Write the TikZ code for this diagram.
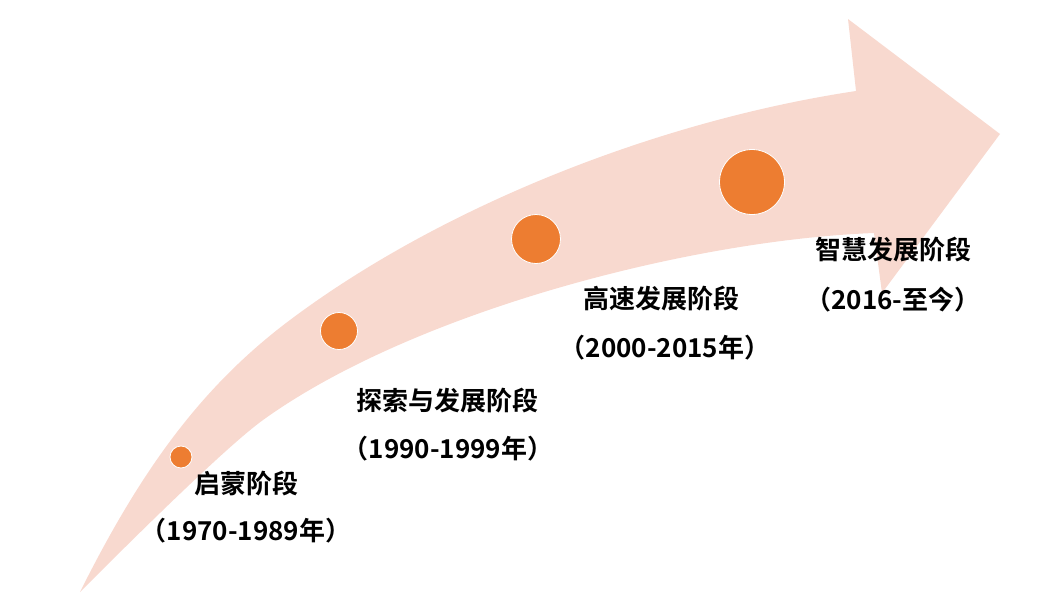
\documentclass[tikz,border=0pt]{standalone}
\usepackage{fontspec}
\newfontfamily\cjk{Noto Sans CJK SC}[BoldFont={Noto Sans CJK SC Bold}]
\definecolor{band}{HTML}{F8D9CF}
\definecolor{dot}{HTML}{ED7D31}
\begin{document}
\begin{tikzpicture}[x=1pt,y=-1pt,
  stagedot/.style={circle,fill=dot,draw=white,line width=0.8pt,inner sep=0pt},
  stagetitle/.style={font=\cjk\bfseries\fontsize{26}{26}\selectfont,inner sep=0pt,anchor=center},
  stageyear/.style={font=\cjk\bfseries\fontsize{26}{26}\selectfont,inner sep=0pt,anchor=center}]
\useasboundingbox (0,0) rectangle (1048,605);
% curved arrow
\coordinate (tail) at (80,592);
\coordinate (ubend) at (290,320);
\coordinate (unotch) at (856,91);
\coordinate (htop) at (848,19);
\coordinate (htip) at (1000,134);
\coordinate (hbot) at (882,293);
\coordinate (lnotch) at (874,233);
\coordinate (lbend) at (263,420);
\fill[band] (tail)
  .. controls (140,472) and (200,387.5) .. (ubend)
  .. controls (440,207.5) and (656,121) .. (unotch)
  -- (htop) -- (htip) -- (hbot) -- (lnotch)
  .. controls (690,240) and (413,312) .. (lbend)
  .. controls (223,449) and (120,552) .. (tail)
  -- cycle;
% dots
\node[stagedot,minimum size=22pt] (d1) at (181,457) {};
\node[stagedot,minimum size=37pt] (d2) at (339,331) {};
\node[stagedot,minimum size=49pt] (d3) at (536,239) {};
\node[stagedot,minimum size=65pt] (d4) at (752,182) {};
% labels
\node[stagetitle] (t1) at (246,484) {启蒙阶段};
\node[stageyear]  (y1) at (246,531) {（1970-1989年）};
\node[stagetitle] (t2) at (447,401) {探索与发展阶段};
\node[stageyear]  (y2) at (448,449) {（1990-1999年）};
\node[stagetitle] (t3) at (661,299) {高速发展阶段};
\node[stageyear]  (y3) at (665,348) {（2000-2015年）};
\node[stagetitle] (t4) at (893,250) {智慧发展阶段};
\node[stageyear]  (y4) at (893,300) {（2016-至今）};
\end{tikzpicture}
\end{document}
